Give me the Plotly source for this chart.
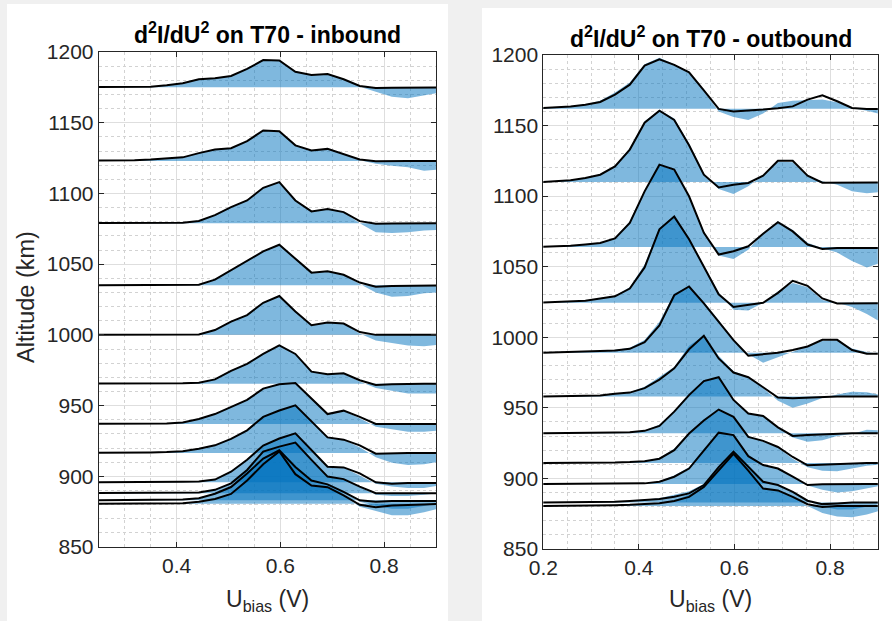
import plotly.graph_objects as go

# bias voltage sweep (V)
U = [0.195, 0.226, 0.257, 0.288, 0.319, 0.350, 0.381, 0.412, 0.443, 0.474, 0.505, 0.536,
     0.567, 0.598, 0.629, 0.660, 0.691, 0.722, 0.753, 0.784, 0.815, 0.846, 0.877, 0.908]

# ---------------- inbound: baseline altitudes (km) ----------------
in_base = [1175, 1123, 1079, 1035, 1000, 965.5, 937, 916.5, 895.7, 888, 883, 880.5]

# scaled d2I/dU2 (km above baseline): fitted curve / measured
in1_fit = [0, 0, 0, 0.2, 0.5, 0.5, 1.5, 2.9, 5.7, 6.5, 8, 13, 19.3, 19, 11, 8.7, 9.4, 5.7, 1, -0.5, -0.3, -0.2, 0, 0]
in1_meas = [0, 0, 0, 0.2, 0.5, 0.5, 1.5, 2.9, 5.7, 6.5, 8, 13, 19.3, 19, 11, 8.7, 9.4, 5.7, 0.5, -3, -6.6, -7.7, -5.5, -3.6]
in2_fit = [0, 0, 0, 0.2, 0.5, 1, 1.8, 2.5, 5.5, 8, 9, 14, 21.5, 21, 11, 7.4, 8.5, 5, 1, -0.3, 0, 0, 0, 0]
in2_meas = [0, 0, 0, 0.2, 0.5, 1, 1.8, 2.5, 5.5, 8, 9, 14, 21.5, 21, 11, 7.4, 8.5, 5, 0.5, -2, -3.5, -4.5, -7, -6]
in3_fit = [0, 0, 0, 0, 0, 0, 0.1, 0.3, 1.5, 5.7, 11.3, 16, 25, 29, 16, 8.3, 10, 7.8, 1.4, -0.5, -0.3, 0, 0, 0]
in3_meas = [0, 0, 0, 0, 0, 0, 0.1, 0.3, 1.5, 5.7, 11.3, 16, 25, 29, 16, 8.3, 10, 7.8, 0, -6.4, -7, -6.4, -5.2, -4.7]
in4_fit = [0, 0, 0, 0, 0, 0, 0, 0, 0.5, 4, 10.5, 17.6, 24, 28.7, 19, 9, 10, 7.5, 2, -1, -0.5, -0.3, 0, 0]
in4_meas = [0, 0, 0, 0, 0, 0, 0, 0, 0.5, 4, 10.5, 17.6, 24, 28.7, 19, 9, 10, 7.5, 1, -5, -8, -7.5, -5.5, -5]
in5_fit = [0, 0, 0, 0, 0, 0, 0, 0.1, 0.3, 3.4, 9.3, 14, 22.7, 27.5, 16.5, 6.8, 8.7, 8, 2, 0, 0, 0, 0, 0]
in5_meas = [0, 0, 0, 0, 0, 0, 0, 0.1, 0.3, 3.4, 9.3, 14, 22.7, 27.5, 16.5, 6.8, 8.7, 8, 1, -4, -6, -7.5, -8, -7]
in6_fit = [0, 0, 0, 0, 0, 0, 0, 0.2, 0.7, 3, 9, 14, 21, 27, 21, 8.5, 6.6, 7.3, 2.4, -1, -0.5, 0, 0, 0]
in6_meas = [0, 0, 0, 0, 0, 0, 0, 0.2, 0.7, 3, 9, 14, 21, 27, 21, 8.5, 6.6, 7.3, 1.5, -3, -5, -7, -7, -7]
in7_fit = [0, 0, 0, 0, 0, 0, 0.3, 1, 3.5, 7, 12, 17, 25, 28, 29, 17.7, 7, 9.4, 5, 0, 0, 0, 0, 0]
in7_meas = [0, 0, 0, 0, 0, 0, 0.3, 1, 3.5, 7, 12, 17, 25, 28, 29, 17.7, 7, 9.4, 4, -2, -4, -5.5, -5.5, -4.5]
in8_fit = [0, 0, 0, 0, 0, 0.3, 0.6, 1.2, 3, 5.4, 10, 16, 25.5, 30, 33.7, 22, 11, 9.4, 5.4, -0.5, 0, 0, 0, 0]
in8_meas = [0, 0, 0, 0, 0, 0.3, 0.6, 1.2, 3, 5.4, 10, 16, 25.5, 30, 33.7, 22, 11, 9.4, 4, -3, -7, -8.5, -8, -6]
in9_fit = [0, 0, 0, 0, 0.2, 0.3, 0.4, 0.5, 0.6, 2, 7.5, 16, 26, 31, 34.7, 23, 11, 10.6, 6.4, 0, -1, -0.5, -0.5, -0.5]
in9_meas = [0, 0, 0, 0, 0.2, 0.3, 0.4, 0.5, 0.6, 2, 7.5, 16, 26, 31, 34.7, 23, 11, 10.6, 5, -1, -3, -4, -4, -2]
in10_fit = [0, 0, 0, 0, 0.2, 0.3, 0.4, 0.5, 0.5, 2.4, 7, 16.5, 29.5, 33, 35.8, 23.6, 11.8, 10, 4.7, 0, 0, 0, 0, 0]
in10_meas = [0, 0, 0, 0, 0.2, 0.3, 0.4, 0.5, 0.5, 2.4, 7, 16.5, 29.5, 33, 35.8, 23.6, 11.8, 10, 4.7, -1, -2, -2, -1, 0]
in11_fit = [0, 0, 0, 0, 0.1, 0.2, 0.3, 0.5, 1.5, 4.7, 9.4, 19, 29.5, 35.4, 23.6, 14, 11.3, 6, 0, -1, -0.5, -0.5, -0.5, -0.5]
in11_meas = [0, 0, 0, 0, 0.1, 0.2, 0.3, 0.5, 1.5, 4.7, 9.4, 19, 29.5, 35.4, 23.6, 14, 11.3, 6, -1, -4, -6, -6, -4, -2]
in12_fit = [0, 0, 0, 0, 0.1, 0.2, 0.3, 0.5, 1.5, 3.5, 7, 16.5, 28, 37, 21, 13, 11.8, 6, -0.7, -2.4, -1.2, -1, -0.5, 0]
in12_meas = [0, 0, 0, 0, 0.1, 0.2, 0.3, 0.5, 1.5, 3.5, 7, 16.5, 28, 37, 21, 13, 11.8, 6, -2, -5, -8, -8, -6, -3]

# ---------------- outbound ----------------
out_base = [1162, 1110, 1064, 1024.5, 989, 958, 932, 911, 896, 883, 880.5]

out1_fit = [0.3, 0.8, 1.5, 2.8, 4.7, 10, 17, 30.5, 35, 31, 25.7, 13, -0.2, -2, -1.5, -0.7, 0.3, 1.6, 6.4, 9.4, 5.2, 0.5, -0.3, -0.3]
out1_meas = [0.3, 0.8, 1.5, 3, 5.5, 11.5, 18.5, 31.5, 36, 31.5, 25, 12.5, -2, -6, -8, -3.5, 4, 5.5, 6, 6.5, 4.5, 0.5, -1.5, -4]
out2_fit = [0, 0.5, 1.2, 2.8, 5.2, 11, 23, 42, 50.5, 44, 26, 5.2, -3.8, -1.9, -0.7, 4.5, 15, 15, 4.5, -0.5, -0.5, -0.3, -0.3, -0.3]
out2_meas = [0, 0.5, 1.2, 3, 5.5, 11.5, 24, 43, 51, 45, 27.5, 6, -5, -8.5, -3, 5, 14.5, 14, 4, 0.5, -2, -6.5, -8, -7]
out3_fit = [0, 0.3, 0.8, 1.7, 2.8, 6, 17, 39.4, 58.3, 54.8, 35.9, 10, -5.4, -3, 0.5, 9.4, 17.5, 11, 1.7, -1.4, -0.7, -0.7, -0.7, -0.7]
out3_meas = [0, 0.3, 0.8, 1.8, 3, 6.5, 18, 40, 58, 54, 36, 11, -6, -8.5, -2, 10, 18, 12, 3, -1, -4, -10, -14.5, -11]
out4_fit = [0, 0.3, 0.7, 1.4, 3, 4.5, 10, 25, 52, 61, 45, 25.5, 6, -3, -1.5, 0, 7, 15.5, 12, 3, -0.5, -0.5, -0.3, -0.3]
out4_meas = [0, 0.3, 0.7, 1.5, 3, 5, 11, 27, 53, 61, 46, 27, 7, -5, -5.5, 0, 8, 14, 11, 2, 0, -3, -8, -14]
out5_fit = [0, 0.2, 0.5, 0.8, 1.2, 1.7, 2.8, 7.5, 19.4, 40.8, 47, 35, 22, 9, -2, -1.2, 0, 2, 4.5, 9.2, 9.2, 2, -0.7, -0.7]
out5_meas = [0, 0.2, 0.5, 0.8, 1.3, 2, 3.5, 9, 22, 42, 47, 36, 23, 9, -1, -7, -3, 1, 5, 8.5, 9, 3, 0.5, -0.5]
out6_fit = [0, 0.1, 0.2, 0.4, 0.7, 2, 2.8, 6, 12, 20, 33.5, 43, 27, 17, 13.7, 6.6, -0.7, -1.2, -0.7, -0.5, 0, 0, 0, 0]
out6_meas = [0, 0.1, 0.2, 0.4, 0.8, 2, 3, 7, 14, 21, 36, 43, 29, 18, 14, 6, -3, -8, -5, -1, 1.5, 3.5, 3, 1]
out7_fit = [0, 0, 0.1, 0.2, 0.3, 0.5, 0.7, 1.7, 5.2, 15.3, 27, 37, 39.7, 23.6, 14, 12.3, 4.2, -1.9, -1.2, -0.7, 0, 0, 0, 0]
out7_meas = [0, 0, 0.1, 0.2, 0.3, 0.5, 0.8, 2, 6, 16, 28, 37.5, 39, 24, 14, 12, 4, -3, -6, -5, -2, -0.5, 2.5, 2]
out8_fit = [0, 0, 0, 0.1, 0.2, 0.3, 0.6, 1.2, 3, 9, 20.8, 30, 37.8, 32.6, 18.4, 15.6, 11.3, 4.2, -1.7, -1.2, -0.5, 0, 0, 0]
out8_meas = [0, 0, 0, 0.1, 0.2, 0.3, 0.6, 1.3, 3.5, 10, 21, 31, 37, 33, 19, 15, 11, 3, -3, -5.5, -6, -4, -2, -1]
out9_fit = [0, 0, 0, 0, 0.1, 0.2, 0.3, 0.5, 1.7, 5.2, 11, 24, 36.4, 34.7, 19.8, 13.5, 11, 5.2, -0.7, -0.2, 0, 0, 0, 0]
out9_meas = [0, 0, 0, 0, 0.1, 0.2, 0.3, 0.6, 2, 6, 12, 25, 36, 35, 20, 13, 11, 5, -1, -4, -6, -5, -3, -1]
out10_fit = [0, 0, 0.1, 0.2, 0.3, 0.5, 1, 1.5, 2.4, 4, 6.4, 12.3, 25, 36, 25, 14.6, 12.3, 7.5, 1.2, -1.2, -0.7, 0, 0, 0]
out10_meas = [0, 0, 0.1, 0.2, 0.3, 0.5, 1.2, 2, 3, 5.5, 8, 13, 25, 36, 25, 15, 12, 7, 1, -3, -5, -5, -3, -1]
out11_fit = [0, 0, 0.1, 0.2, 0.3, 0.5, 0.8, 1.2, 2, 3.5, 6.4, 13.5, 25, 37, 25, 12.3, 11, 6.4, 1.2, -0.7, 0, 0, 0, 0]
out11_meas = [0, 0, 0.1, 0.2, 0.3, 0.5, 0.8, 1.3, 2.2, 4, 8, 14, 25, 37, 25, 12.5, 11, 6.5, 0, -5, -7.5, -8, -6, -3]

in_fit = [in1_fit, in2_fit, in3_fit, in4_fit, in5_fit, in6_fit, in7_fit, in8_fit, in9_fit, in10_fit, in11_fit, in12_fit]
in_meas = [in1_meas, in2_meas, in3_meas, in4_meas, in5_meas, in6_meas, in7_meas, in8_meas, in9_meas, in10_meas, in11_meas, in12_meas]
out_fit = [out1_fit, out2_fit, out3_fit, out4_fit, out5_fit, out6_fit, out7_fit, out8_fit, out9_fit, out10_fit, out11_fit]
out_meas = [out1_meas, out2_meas, out3_meas, out4_meas, out5_meas, out6_meas, out7_meas, out8_meas, out9_meas, out10_meas, out11_meas]

FILL = "rgba(0,114,189,0.5)"
FONT = "Liberation Sans, Arial, Helvetica, sans-serif"
TXT = "#262626"

fig = go.Figure()


def add_panel(bases, meas, fit, xa, ya):
    for b, m in zip(bases, meas):
        xs = U + U[::-1]
        ys = [b + v for v in m] + [b] * len(U)
        fig.add_trace(go.Scatter(x=xs, y=ys, xaxis=xa, yaxis=ya, mode="lines", fill="toself",
                                 fillcolor=FILL, line=dict(width=0), hoverinfo="skip",
                                 showlegend=False))
    for b, f in zip(bases, fit):
        fig.add_trace(go.Scatter(x=U, y=[b + v for v in f], xaxis=xa, yaxis=ya, mode="lines",
                                 line=dict(color="black", width=2), showlegend=False))


add_panel(in_base, in_meas, in_fit, "x", "y")
add_panel(out_base, out_meas, out_fit, "x2", "y2")

W, H = 892, 621


def px_x(p):
    return p / W


def px_y(p):
    return 1 - p / H


axis_common = dict(
    automargin=False,
    showline=True, linecolor=TXT, linewidth=1, mirror="ticks", ticks="inside", ticklen=5,
    tickcolor=TXT, tickfont=dict(family=FONT, size=21, color=TXT),
    showgrid=True, gridcolor="#dedede", gridwidth=1, zeroline=False,
)
minor_x = dict(dtick=0.05, tick0=0, showgrid=True, gridcolor="#d2d2d2", griddash="dot", ticks="")
minor_y = dict(dtick=10, tick0=0, showgrid=True, gridcolor="#d2d2d2", griddash="dot", ticks="")

fig.update_layout(
    template="none",
    width=W, height=H, margin=dict(l=0, r=0, t=0, b=0, pad=0), autosize=False,
    paper_bgcolor="#f0f0f0", plot_bgcolor="white", showlegend=False,
    xaxis=dict(domain=[px_x(98.7), px_x(436)], range=[0.25, 0.9], anchor="y",
               tickvals=[0.4, 0.6, 0.8], ticktext=["0.4", "0.6", "0.8"], minor=minor_x, **axis_common),
    yaxis=dict(domain=[px_y(547), px_y(52)], range=[850, 1200], anchor="x",
               tickvals=[850, 900, 950, 1000, 1050, 1100, 1150, 1200], minor=minor_y, **axis_common),
    xaxis2=dict(domain=[px_x(543.3), px_x(877.8)], range=[0.2, 0.9], anchor="y2",
                tickvals=[0.2, 0.4, 0.6, 0.8], ticktext=["0.2", "0.4", "0.6", "0.8"], minor=minor_x,
                **axis_common),
    yaxis2=dict(domain=[px_y(549), px_y(55)], range=[850, 1200], anchor="x2",
                tickvals=[850, 900, 950, 1000, 1050, 1100, 1150, 1200], minor=minor_y, **axis_common),
    shapes=[
        dict(type="rect", xref="paper", yref="paper", x0=px_x(7), x1=px_x(448), y0=0, y1=px_y(4),
             fillcolor="white", line=dict(width=0), layer="below"),
        dict(type="rect", xref="paper", yref="paper", x0=px_x(482), x1=1, y0=0, y1=px_y(8),
             fillcolor="white", line=dict(width=0), layer="below"),
    ],
    annotations=[
        dict(text="<b>d<sup>2</sup>I/dU<sup>2</sup> on T70 - inbound</b>", xref="paper", yref="paper",
             x=px_x(267), y=px_y(33), xanchor="center", yanchor="middle", showarrow=False,
             font=dict(family=FONT, size=23, color="black")),
        dict(text="<b>d<sup>2</sup>I/dU<sup>2</sup> on T70 - outbound</b>", xref="paper", yref="paper",
             x=px_x(710.5), y=px_y(37), xanchor="center", yanchor="middle", showarrow=False,
             font=dict(family=FONT, size=23, color="black")),
        dict(text="Altitude (km)", xref="paper", yref="paper", x=px_x(26), y=px_y(297),
             xanchor="center", yanchor="middle", textangle=-90, showarrow=False,
             font=dict(family=FONT, size=23.5, color=TXT)),
        dict(text="U<sub>bias</sub> (V)", xref="paper", yref="paper", x=px_x(267), y=px_y(600),
             xanchor="center", yanchor="middle", showarrow=False,
             font=dict(family=FONT, size=23, color=TXT)),
        dict(text="U<sub>bias</sub> (V)", xref="paper", yref="paper", x=px_x(710.5), y=px_y(600),
             xanchor="center", yanchor="middle", showarrow=False,
             font=dict(family=FONT, size=23, color=TXT)),
    ],
)

fig.write_html("out.html", config={"displayModeBar": False},
               post_script="document.body.style.margin='0';document.body.style.background='#f0f0f0';")
